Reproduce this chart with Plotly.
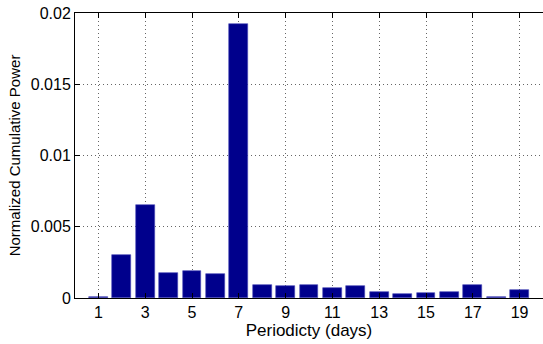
import plotly.graph_objects as go

periods = list(range(1, 20))
power = [0.00004, 0.00305, 0.00655, 0.00172, 0.00192, 0.00165, 0.0192, 0.00093,
         0.00087, 0.00093, 0.00072, 0.00084, 0.00044, 0.0003, 0.00037, 0.00044,
         0.00093, 0.00004, 0.00058]
xticks = [1, 3, 5, 7, 9, 11, 13, 15, 17, 19]
yticks = [0, 0.005, 0.01, 0.015, 0.02]
yticklabels = ["0", "0.005", "0.01", "0.015", "0.02"]

fig = go.Figure(go.Bar(
    x=periods, y=power, width=0.8,
    marker=dict(color="#00008C", line=dict(color="#4a4ab8", width=0.6)),
))

fam = "Liberation Sans, Arial, sans-serif"
tickfont = dict(family=fam, size=16, color="black")
fig.update_layout(
    width=543, height=344,
    margin=dict(l=75, r=0, t=13, b=46),
    paper_bgcolor="white", plot_bgcolor="white",
    font=tickfont, showlegend=False, bargap=0,
)
fig.update_xaxes(
    range=[0, 20], tickvals=xticks, ticks="inside", ticklen=5, tickcolor="black",
    showline=True, linecolor="black", linewidth=1, mirror="ticks",
    showgrid=True, gridcolor="#666666", griddash="1px,3px", gridwidth=1,
    title=dict(text="Periodicty (days)", standoff=0, font=dict(family=fam, size=17, color="black")),
    zeroline=False, tickfont=tickfont, automargin=False, ticklabeloverflow="allow",
)
fig.update_yaxes(
    range=[0, 0.02], tickvals=yticks, ticktext=yticklabels, ticks="inside", ticklen=5,
    tickcolor="black", showline=True, linecolor="black", linewidth=1,
    showgrid=True, gridcolor="#666666", griddash="1px,3px", gridwidth=1,
    title=dict(text="Normalized Cumulative Power", standoff=6, font=dict(family=fam, size=15, color="black")),
    zeroline=False, tickfont=tickfont, automargin=False, ticklabeloverflow="allow",
)
# remove the browser's default 8px body margin so the figure fills the window
fig.write_html("out.html", config={"displayModeBar": False},
               post_script="document.body.style.margin='0';")
